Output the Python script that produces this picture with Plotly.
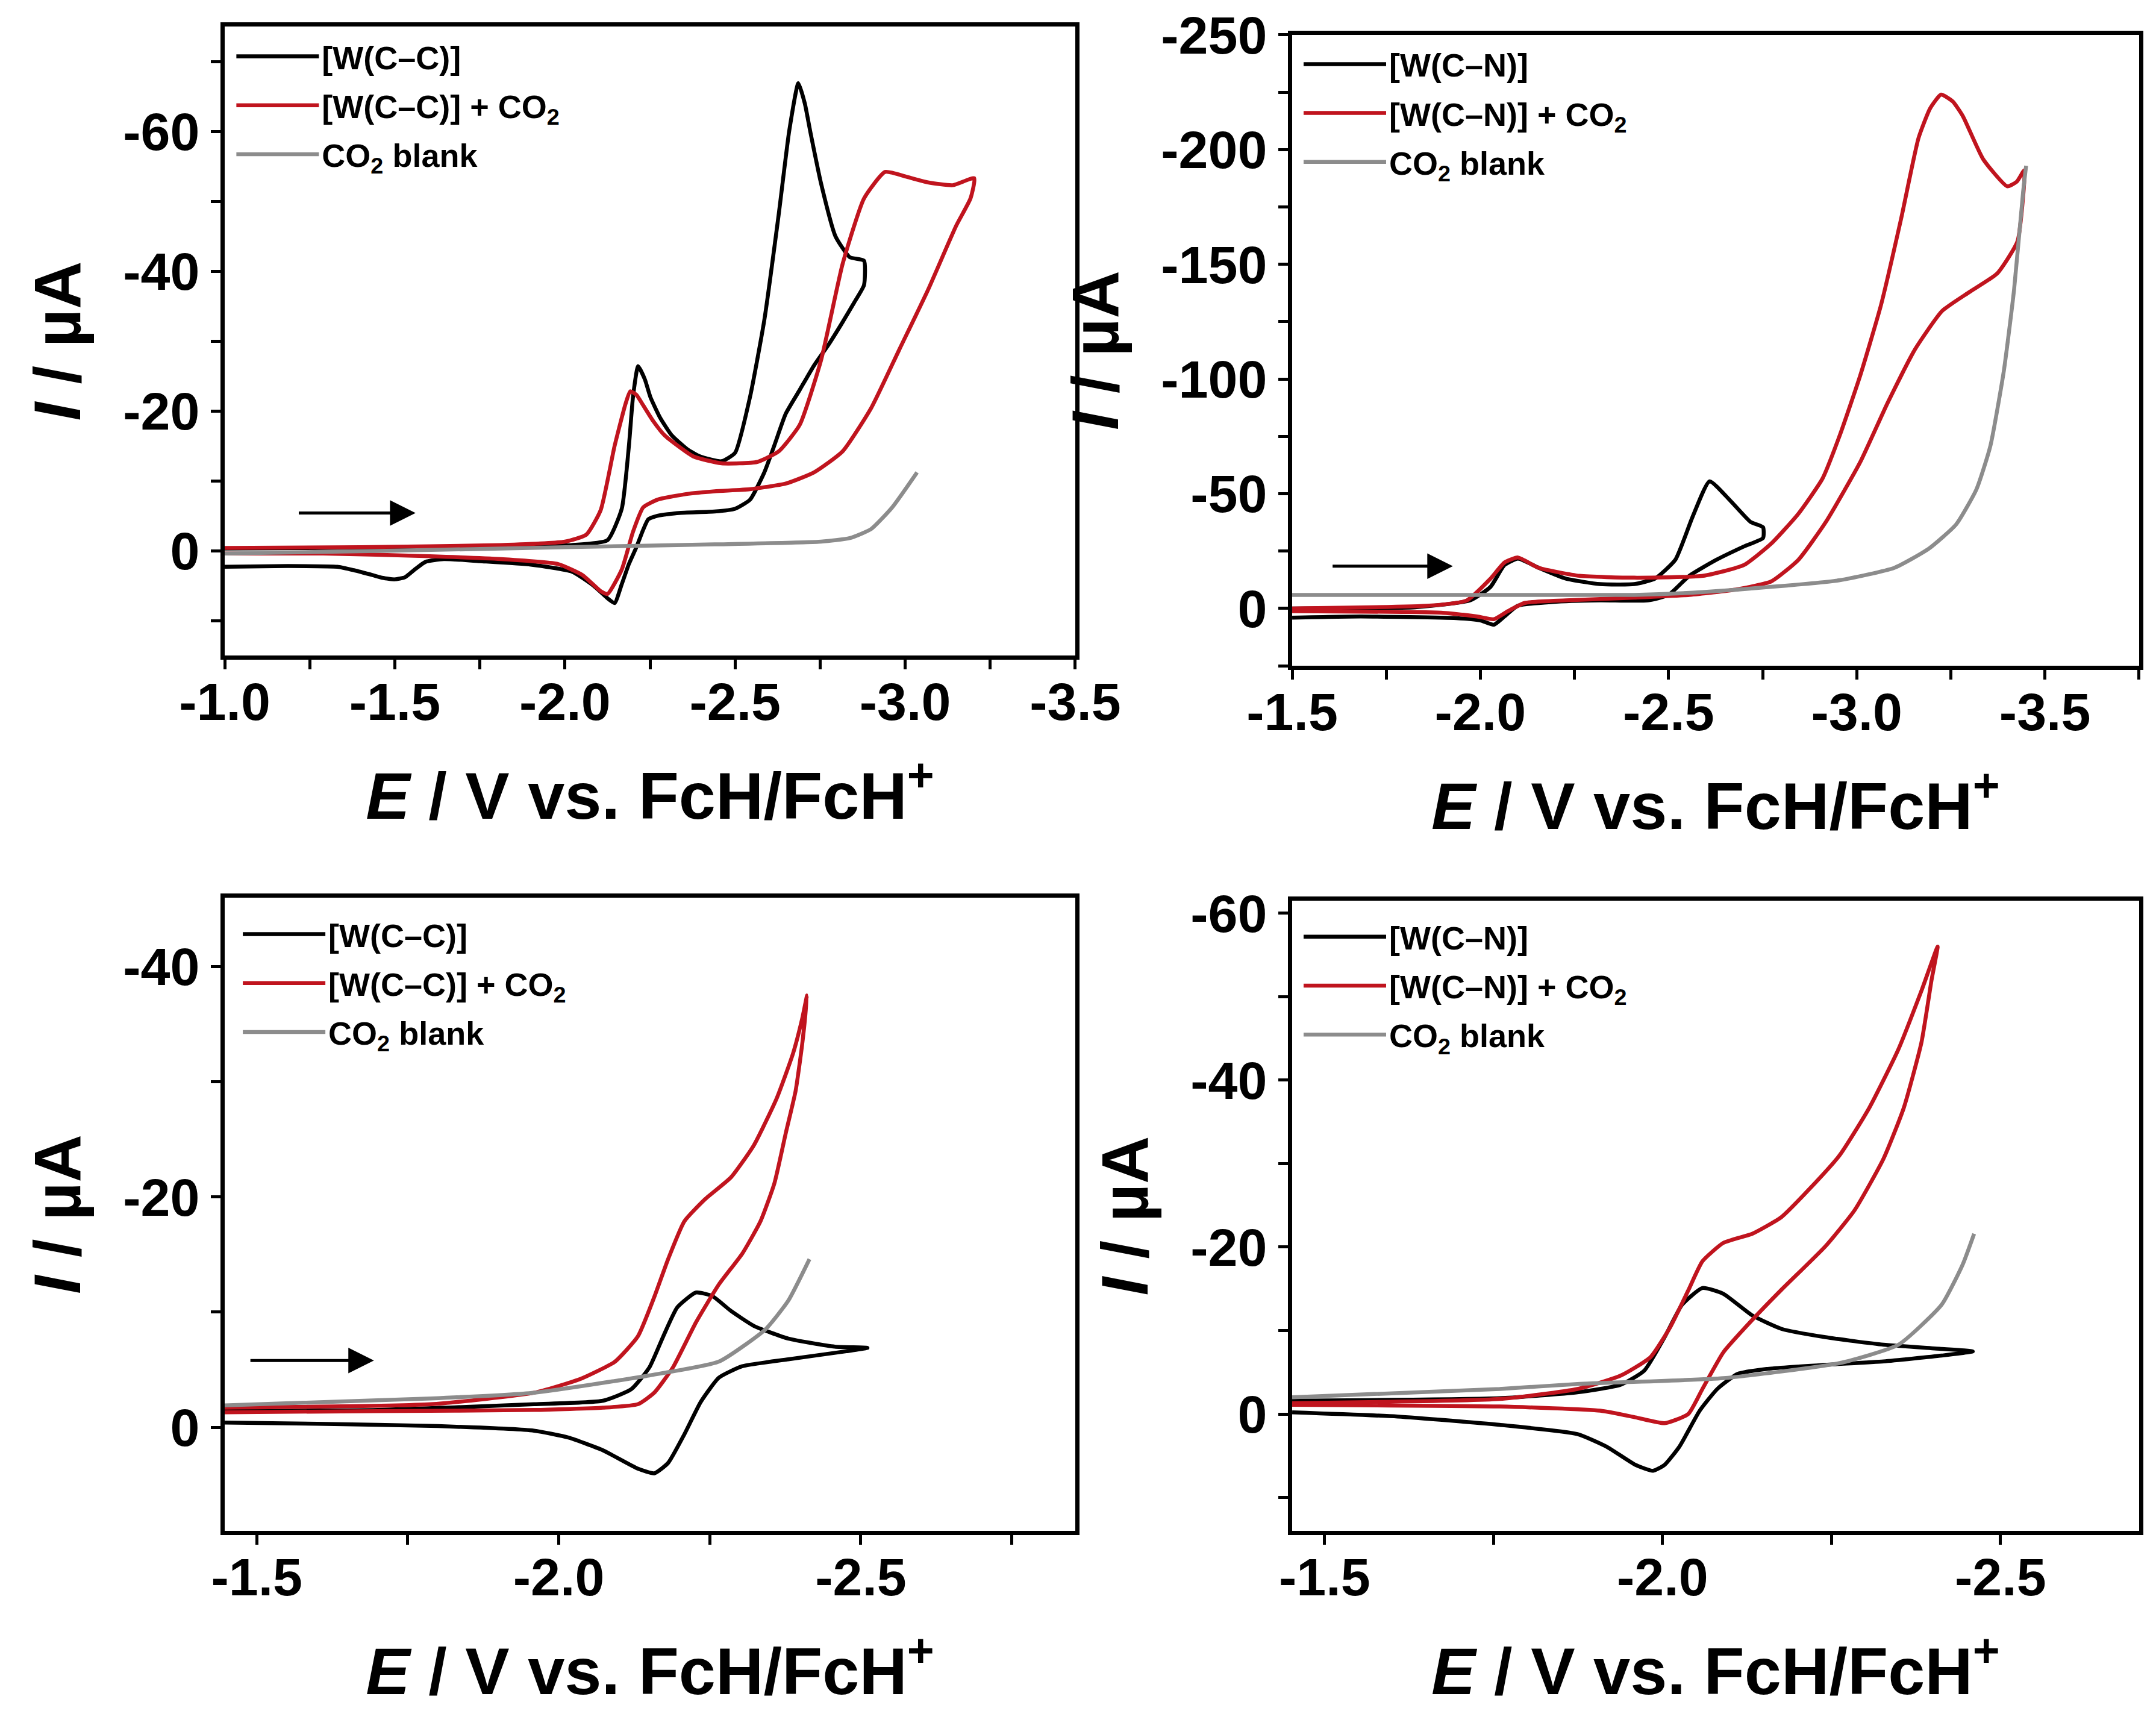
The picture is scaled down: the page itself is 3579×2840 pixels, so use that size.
import plotly.graph_objects as go
from plotly.subplots import make_subplots

FONT = "Liberation Sans, Arial, sans-serif"
BLACK = "#000000"
RED = "#c0141e"
GRAY = "#8c8c8c"

# ---- panel 1 : [W(C-C)], wide window ----
p1_black_E = [-1.0, -1.3, -1.6, -1.8, -2.02, -2.125, -2.167, -2.188, -2.2, -2.215, -2.235, -2.251, -2.28,
              -2.314, -2.36, -2.397, -2.46, -2.5, -2.544, -2.586, -2.628, -2.659, -2.686, -2.705, -2.721,
              -2.753, -2.795, -2.837, -2.879,
              -2.879, -2.85, -2.816, -2.775, -2.732, -2.69, -2.649, -2.615, -2.586, -2.544, -2.5, -2.44,
              -2.335, -2.272, -2.245, -2.23, -2.21, -2.188, -2.167, -2.146, -2.125, -2.084, -2.021, -1.9,
              -1.75, -1.644, -1.59, -1.561, -1.53, -1.5, -1.465, -1.435, -1.38, -1.331, -1.184, -1.0]
p1_black_I = [-0.3, -0.4, -0.5, -0.6, -0.8, -1.5, -6.0, -15.0, -22.0, -26.4, -24.5, -22.0, -19.0,
              -16.5, -14.5, -13.5, -12.8, -14.0, -22.0, -33.0, -48.0, -60.0, -66.9, -64.0, -60.0,
              -52.5, -45.0, -42.0, -41.5,
              -38.0, -35.5, -32.7, -29.5, -26.5, -23.0, -19.6, -15.0, -11.2, -7.3, -6.0, -5.6,
              -5.4, -5.0, -4.5, -3.0, -0.5, 1.9, 4.8, 7.5, 6.8, 5.0, 3.0, 2.0,
              1.5, 1.2, 1.6, 2.6, 3.8, 4.1, 3.9, 3.5, 2.8, 2.3, 2.2, 2.3]

p1_red_E = [-1.0, -1.4, -1.812, -2.0, -2.063, -2.105, -2.146, -2.178, -2.192, -2.21, -2.23, -2.26, -2.293,
            -2.377, -2.46, -2.565, -2.628, -2.69, -2.753, -2.816, -2.879, -2.941, -3.004, -3.067, -3.14,
            -3.203,
            -3.192, -3.15, -3.067, -2.983, -2.9, -2.816, -2.732, -2.649, -2.544, -2.44, -2.356, -2.272,
            -2.23, -2.2, -2.167, -2.125, -2.105, -2.052, -1.979, -1.812, -1.603, -1.289, -1.0]
p1_red_I = [-0.4, -0.5, -0.8, -1.3, -2.3, -5.8, -15.0, -21.0, -22.8, -22.3, -20.8, -18.5, -16.5,
            -13.5, -12.5, -12.7, -14.2, -18.0, -27.3, -41.0, -50.4, -54.2, -53.5, -52.7, -52.3,
            -53.3,
            -50.4, -46.5, -37.3, -28.8, -20.4, -14.2, -11.2, -9.6, -8.8, -8.5, -8.1, -7.3,
            -6.2, -2.7, 2.7, 6.2, 5.8, 3.5, 1.9, 1.2, 0.8, 0.4, 0.4]

p1_gray_E = [-1.0, -1.5, -2.0, -2.44, -2.753, -2.837, -2.9, -2.962, -3.035]
p1_gray_I = [0.4, 0.0, -0.5, -0.9, -1.3, -1.8, -3.1, -6.2, -11.2]

# ---- panel 2 : [W(C-N)], wide window ----
p2_black_E = [-1.5, -1.827, -1.973, -2.027, -2.064, -2.1, -2.155, -2.227, -2.318, -2.409, -2.464, -2.518,
              -2.564, -2.609, -2.664, -2.718, -2.751,
              -2.751, -2.7, -2.627, -2.555, -2.5, -2.445, -2.318, -2.191, -2.1, -2.064, -2.036, -2.0,
              -1.936, -1.682, -1.5]
p2_black_I = [0.0, -0.5, -3.5, -9.4, -18.9, -21.7, -17.7, -13.0, -10.6, -10.6, -13.0, -21.2,
              -40.0, -55.4, -47.0, -37.7, -35.4,
              -30.7, -27.0, -21.2, -14.2, -5.9, -3.5, -3.5, -2.8, -1.2, 3.5, 7.1, 5.2,
              4.2, 3.5, 4.0]

p2_red_E = [-1.5, -1.864, -1.964, -2.027, -2.064, -2.1, -2.155, -2.264, -2.409, -2.591, -2.7, -2.773,
            -2.845, -2.909, -2.955, -3.009, -3.064, -3.118, -3.164, -3.195, -3.224, -3.255, -3.282,
            -3.336, -3.4, -3.425, -3.445,
            -3.445, -3.427, -3.373, -3.3, -3.227, -3.155, -3.082, -3.009, -2.918, -2.845, -2.773, -2.682,
            -2.555, -2.409, -2.227, -2.118, -2.073, -2.036, -1.991, -1.9, -1.5]
p2_red_I = [0.0, -1.2, -3.5, -13.0, -20.0, -22.2, -17.7, -14.2, -13.4, -14.2, -18.9, -28.3,
            -41.3, -56.6, -75.5, -101.4, -132.0, -170.0, -205.0, -218.0, -224.0, -221.0, -214.6,
            -195.8, -184.0, -186.0, -191.0,
            -186.0, -160.0, -146.0, -138.0, -129.7, -113.0, -89.6, -63.7, -37.7, -21.2, -11.8, -8.3,
            -5.9, -4.7, -3.5, -2.4, 1.2, 4.7, 3.5, 1.9, 1.2]

p2_gray_E = [-1.5, -2.409, -2.591, -2.773, -2.955, -3.1, -3.191, -3.264, -3.318, -3.355, -3.391, -3.418,
             -3.442, -3.45]
p2_gray_I = [-5.9, -5.9, -7.1, -9.4, -12.3, -17.7, -26.0, -36.6, -51.9, -70.8, -103.8, -139.0,
             -181.6, -193.0]

# ---- panel 3 : [W(C-C)], narrow window ----
p3_black_E = [-1.447, -1.7, -1.959, -2.073, -2.12, -2.15, -2.173, -2.196, -2.227, -2.254, -2.285, -2.323,
              -2.38, -2.457, -2.511,
              -2.476, -2.38, -2.304, -2.265, -2.235, -2.208, -2.181, -2.158, -2.131, -2.073, -2.016,
              -1.959, -1.8, -1.6, -1.447]
p3_black_I = [-1.4, -1.5, -2.0, -2.3, -3.3, -5.2, -7.9, -10.4, -11.7, -11.4, -10.1, -8.8,
              -7.7, -7.0, -6.9,
              -6.6, -5.9, -5.3, -4.3, -2.2, 0.6, 3.1, 4.0, 3.6, 2.0, 0.9,
              0.3, -0.1, -0.3, -0.4]

p3_red_E = [-1.447, -1.788, -1.959, -2.036, -2.093, -2.131, -2.158, -2.181, -2.208, -2.242, -2.285, -2.323,
            -2.361, -2.388, -2.403, -2.411,
            -2.403, -2.392, -2.376, -2.357, -2.334, -2.304, -2.265, -2.227, -2.189, -2.158, -2.131,
            -2.073, -1.959, -1.7, -1.447]
p3_red_I = [-1.7, -2.0, -3.0, -4.2, -5.7, -7.9, -11.3, -14.6, -17.9, -19.8, -21.7, -24.5,
            -28.6, -32.5, -35.5, -37.5,
            -33.3, -29.2, -25.6, -21.2, -17.9, -15.1, -12.4, -9.1, -5.2, -3.0, -2.0,
            -1.7, -1.5, -1.4, -1.3]

p3_gray_E = [-1.447, -1.788, -1.959, -2.15, -2.265, -2.342, -2.38, -2.415]
p3_gray_I = [-1.9, -2.5, -3.0, -4.5, -5.7, -8.5, -11.0, -14.6]

# ---- panel 4 : [W(C-N)], narrow window ----
p4_black_E = [-1.452, -1.759, -1.874, -1.938, -1.973, -2.003, -2.029, -2.059, -2.09, -2.133, -2.176, -2.241,
              -2.327, -2.413, -2.459,
              -2.413, -2.327, -2.241, -2.154, -2.111, -2.081, -2.055, -2.025, -2.003, -1.986, -1.96,
              -1.917, -1.874, -1.759, -1.608, -1.452]
p4_black_I = [-1.6, -1.9, -2.6, -3.5, -5.2, -9.2, -13.1, -15.1, -14.4, -11.8, -10.2, -9.2,
              -8.3, -7.8, -7.5,
              -7.0, -6.3, -5.9, -5.4, -4.8, -3.0, -0.4, 3.9, 6.1, 6.8, 6.1,
              3.9, 2.4, 1.3, 0.3, -0.2]

p4_red_E = [-1.452, -1.759, -1.874, -1.938, -1.982, -2.012, -2.038, -2.059, -2.09, -2.133, -2.176, -2.219,
            -2.262, -2.306, -2.349, -2.383, -2.407,
            -2.398, -2.383, -2.357, -2.327, -2.284, -2.241, -2.176, -2.133, -2.09, -2.059, -2.038,
            -2.003, -1.96, -1.908, -1.759, -1.452]
p4_red_I = [-1.3, -1.8, -3.0, -4.6, -6.8, -10.5, -14.8, -18.3, -20.5, -21.6, -23.6, -27.1,
            -31.0, -36.7, -43.7, -50.7, -56.0,
            -52.0, -44.5, -36.7, -30.6, -24.4, -20.1, -14.9, -11.3, -7.4, -3.0, 0.0,
            1.1, 0.4, -0.4, -0.9, -1.1]

p4_gray_E = [-1.452, -1.759, -1.874, -2.09, -2.262, -2.349, -2.413, -2.444, -2.461]
p4_gray_I = [-2.0, -3.0, -3.6, -4.3, -6.1, -8.3, -13.1, -17.9, -21.6]

# scan direction arrows (tail E, head E, current)
p1_arrow = [-1.215, -1.561, -5.4]
p2_arrow = [-1.605, -1.927, -18.4]
p3_arrow = [-1.488, -1.694, -5.8]

names_cc = ["[W(C\u2013C)]", "[W(C\u2013C)] + CO<sub>2</sub>", "CO<sub>2</sub> blank"]
names_cn = ["[W(C\u2013N)]", "[W(C\u2013N)] + CO<sub>2</sub>", "CO<sub>2</sub> blank"]

# axis ticks
p1_xticks = [-1.0, -1.5, -2.0, -2.5, -3.0, -3.5]
p1_xtext = ["-1.0", "-1.5", "-2.0", "-2.5", "-3.0", "-3.5"]
p1_yticks = [-60, -40, -20, 0]
p1_ytext = ["-60", "-40", "-20", "0"]
p2_xticks = [-1.5, -2.0, -2.5, -3.0, -3.5]
p2_xtext = ["-1.5", "-2.0", "-2.5", "-3.0", "-3.5"]
p2_yticks = [-250, -200, -150, -100, -50, 0]
p2_ytext = ["-250", "-200", "-150", "-100", "-50", "0"]
p3_xticks = [-1.5, -2.0, -2.5]
p3_xtext = ["-1.5", "-2.0", "-2.5"]
p3_yticks = [-40, -20, 0]
p3_ytext = ["-40", "-20", "0"]
p4_yticks = [-60, -40, -20, 0]
p4_ytext = ["-60", "-40", "-20", "0"]

fig = make_subplots(rows=2, cols=2)

panels = [
    (1, 1, "legend", names_cc, [(p1_black_E, p1_black_I), (p1_red_E, p1_red_I), (p1_gray_E, p1_gray_I)]),
    (1, 2, "legend2", names_cn, [(p2_black_E, p2_black_I), (p2_red_E, p2_red_I), (p2_gray_E, p2_gray_I)]),
    (2, 1, "legend3", names_cc, [(p3_black_E, p3_black_I), (p3_red_E, p3_red_I), (p3_gray_E, p3_gray_I)]),
    (2, 2, "legend4", names_cn, [(p4_black_E, p4_black_I), (p4_red_E, p4_red_I), (p4_gray_E, p4_gray_I)]),
]
for row, col, leg, names, curves in panels:
    for k, ((E, I), name, color) in enumerate(zip(curves, names, [BLACK, RED, GRAY])):
        fig.add_trace(go.Scatter(x=E, y=I, mode="lines", name=name, legend=leg,
                                 legendgroup=f"{leg}_{k}",
                                 line=dict(color=color, width=6.5, shape="spline", smoothing=0.5)),
                      row=row, col=col)

tick_font = dict(family=FONT, size=88, color="black", weight="bold")
title_font = dict(family=FONT, size=110, color="black", weight="bold")
axis_style = dict(showline=True, linecolor="black", linewidth=7, mirror=True, ticks="outside",
                  ticklen=16, tickwidth=5, tickcolor="black", showgrid=False, zeroline=False,
                  tickfont=tick_font, automargin=False)
xtitle = dict(text="<i>E</i> / V vs. FcH/FcH<sup>+</sup>", font=title_font, standoff=72)
ytitle = dict(text="<i>I</i> / \u00b5A", font=title_font, standoff=36)

layout_axes = [
    ("xaxis", [0.1020, 0.4965], [-1.0, -3.5], p1_xticks, p1_xtext, 0.25),
    ("xaxis2", [0.5971, 0.9899], [-1.5, -3.75], p2_xticks, p2_xtext, 0.25),
    ("xaxis3", [0.1020, 0.4965], [-1.447, -2.855], p3_xticks, p3_xtext, 0.25),
    ("xaxis4", [0.5971, 0.9899], [-1.452, -2.705], p3_xticks, p3_xtext, 0.25),
    ("yaxis", [0.6197, 0.9873], [15, -75], p1_yticks, p1_ytext, 10),
    ("yaxis2", [0.6137, 0.9824], [25, -250], p2_yticks, p2_ytext, 25),
    ("yaxis3", [0.1081, 0.4782], [9, -46], p3_yticks, p3_ytext, 10),
    ("yaxis4", [0.1081, 0.4764], [14, -61.5], p4_yticks, p4_ytext, 10),
]
for ax, dom, rng, tv, tt, minor_step in layout_axes:
    if ax.startswith("x"):
        extra = dict(title=xtitle, ticklabelstandoff=-22)
    else:
        extra = dict(title=ytitle, ticklabelstandoff=1)
    fig.layout[ax].update(domain=dom, range=rng, tickvals=tv, ticktext=tt,
                          minor=dict(ticks="outside", ticklen=16, tickwidth=5, tickcolor="black",
                                     dtick=minor_step, tick0=0),
                          **axis_style, **extra)

for ax_x, ax_y, arr in [("x", "y", p1_arrow), ("x2", "y2", p2_arrow), ("x3", "y3", p3_arrow)]:
    fig.add_annotation(x=arr[1], y=arr[2], ax=arr[0], ay=arr[2], xref=ax_x, yref=ax_y,
                       axref=ax_x, ayref=ax_y, text="", showarrow=True, arrowhead=2,
                       arrowsize=1.7, arrowwidth=5, arrowcolor="black", standoff=0)

leg_style = dict(font=dict(family=FONT, size=54, color="black", weight="bold"),
                 bgcolor="rgba(0,0,0,0)", itemwidth=137, xanchor="left", yanchor="top",
                 tracegroupgap=8)
fig.update_layout(
    width=3579, height=2840,
    paper_bgcolor="white", plot_bgcolor="white",
    margin=dict(l=0, r=0, t=0, b=0),
    font=dict(family=FONT, color="black"),
    legend=dict(x=0.106, y=0.9845, **leg_style),
    legend2=dict(x=0.601, y=0.9800, **leg_style),
    legend3=dict(x=0.109, y=0.4715, **leg_style),
    legend4=dict(x=0.601, y=0.4700, **leg_style),
)

fig.write_html("out.html")
